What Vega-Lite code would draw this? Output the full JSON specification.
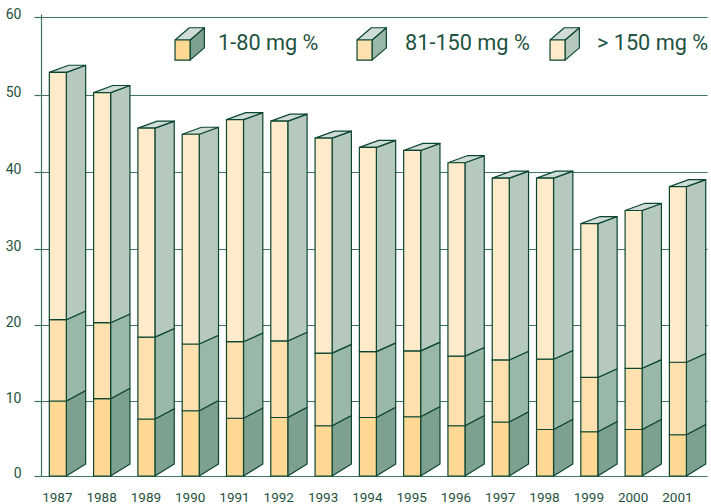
{
"$schema":"https://vega.github.io/schema/vega-lite/v6.json",
"width":666,"height":462,
"autosize":{"type":"none"},
"padding":{"left":41,"top":14,"right":4,"bottom":28},
"background":"white",
"config":{"view":{"stroke":null}},
"datasets":{
"bars":[
{"year":1987,"band":"1-80 mg %","value":10.0},{"year":1987,"band":"81-150 mg %","value":10.7},{"year":1987,"band":"> 150 mg %","value":32.2},
{"year":1988,"band":"1-80 mg %","value":10.3},{"year":1988,"band":"81-150 mg %","value":10.0},{"year":1988,"band":"> 150 mg %","value":30.0},
{"year":1989,"band":"1-80 mg %","value":7.6},{"year":1989,"band":"81-150 mg %","value":10.8},{"year":1989,"band":"> 150 mg %","value":27.3},
{"year":1990,"band":"1-80 mg %","value":8.7},{"year":1990,"band":"81-150 mg %","value":8.8},{"year":1990,"band":"> 150 mg %","value":27.4},
{"year":1991,"band":"1-80 mg %","value":7.7},{"year":1991,"band":"81-150 mg %","value":10.1},{"year":1991,"band":"> 150 mg %","value":29.0},
{"year":1992,"band":"1-80 mg %","value":7.8},{"year":1992,"band":"81-150 mg %","value":10.1},{"year":1992,"band":"> 150 mg %","value":28.7},
{"year":1993,"band":"1-80 mg %","value":6.7},{"year":1993,"band":"81-150 mg %","value":9.6},{"year":1993,"band":"> 150 mg %","value":28.1},
{"year":1994,"band":"1-80 mg %","value":7.8},{"year":1994,"band":"81-150 mg %","value":8.7},{"year":1994,"band":"> 150 mg %","value":26.7},
{"year":1995,"band":"1-80 mg %","value":7.9},{"year":1995,"band":"81-150 mg %","value":8.7},{"year":1995,"band":"> 150 mg %","value":26.2},
{"year":1996,"band":"1-80 mg %","value":6.7},{"year":1996,"band":"81-150 mg %","value":9.2},{"year":1996,"band":"> 150 mg %","value":25.3},
{"year":1997,"band":"1-80 mg %","value":7.2},{"year":1997,"band":"81-150 mg %","value":8.2},{"year":1997,"band":"> 150 mg %","value":23.8},
{"year":1998,"band":"1-80 mg %","value":6.2},{"year":1998,"band":"81-150 mg %","value":9.3},{"year":1998,"band":"> 150 mg %","value":23.7},
{"year":1999,"band":"1-80 mg %","value":5.9},{"year":1999,"band":"81-150 mg %","value":7.2},{"year":1999,"band":"> 150 mg %","value":20.2},
{"year":2000,"band":"1-80 mg %","value":6.2},{"year":2000,"band":"81-150 mg %","value":8.1},{"year":2000,"band":"> 150 mg %","value":20.7},
{"year":2001,"band":"1-80 mg %","value":5.5},{"year":2001,"band":"81-150 mg %","value":9.6},{"year":2001,"band":"> 150 mg %","value":23.0}
],
"key":[{"band":"1-80 mg %","slot":0},{"band":"81-150 mg %","slot":1},{"band":"> 150 mg %","slot":2}]
},
"encoding":{
"x":{"field":"xp","type":"quantitative","title":null,"scale":{"domain":[1986.62,2001.657],"nice":false,"zero":false},
"axis":{"values":[1987,1988,1989,1990,1991,1992,1993,1994,1995,1996,1997,1998,1999,2000,2001],"format":"d","domain":false,"ticks":false,"grid":false,"labelFont":"Roboto","labelFontSize":13.5,"labelColor":"#1f5240","labelPadding":14,"labelOffset":-1,"labelOverlap":false,"labelFlush":false}},
"y":{"field":"yp","type":"quantitative","title":null,"scale":{"domain":[0,10,20,30,40,50,60,60.39],"range":[462,387,311,235,158,81,3,0],"nice":false,"zero":false},
"axis":{"values":[0,10,20,30,40,50,60],"domain":true,"domainColor":"#3f7560","domainWidth":1.2,"ticks":true,"tickSize":7,"tickColor":"#3f7560","tickWidth":1.2,"grid":true,"gridColor":"#3f7560","gridWidth":1.2,"gridOpacity":1,"labelFont":"Roboto","labelFontSize":14,"labelColor":"#1f5240","labelPadding":13,"labelOffset":-3}}
},
"layer":[
{"data":{"name":"bars"},
"transform":[
{"calculate":"indexof(['1-80 mg %','81-150 mg %','> 150 mg %'],datum.band)","as":"level"},
{"stack":"value","groupby":["year"],"sort":[{"field":"level","order":"ascending"}],"as":["low","high"]},
{"calculate":"[datum.year+0.192,datum.year+0.628,datum.year+0.628,datum.year+0.192,datum.year+0.192]","as":"xp"},
{"calculate":"[datum.high,datum.high+(12.3-1.77*(datum.level+1))/7.65,datum.low+(12.3-1.77*datum.level)/7.65,datum.low,datum.high]","as":"yp"},
{"calculate":"[0,1,2,3,4]","as":"pt"},
{"flatten":["xp","yp","pt"]}
],
"mark":{"type":"line","stroke":"#0c4630","strokeWidth":1.2,"interpolate":"linear","strokeJoin":"round"},
"encoding":{"order":{"field":"pt"},"detail":{"field":"year"},
"fill":{"field":"band","scale":{"domain":["1-80 mg %","81-150 mg %","> 150 mg %"],"range":["#7da08f","#9ab8a8","#b5c9bf"]},"legend":null}}
},
{"data":{"name":"bars"},
"transform":[
{"calculate":"indexof(['1-80 mg %','81-150 mg %','> 150 mg %'],datum.band)","as":"level"},
{"stack":"value","groupby":["year"],"sort":[{"field":"level","order":"ascending"}],"as":["low","high"]},
{"filter":"datum.level==2"},
{"calculate":"[datum.year-0.192,datum.year+0.192,datum.year+0.628,datum.year+0.244,datum.year-0.192]","as":"xp"},
{"calculate":"[datum.high,datum.high,datum.high+0.915,datum.high+0.915,datum.high]","as":"yp"},
{"calculate":"[0,1,2,3,4]","as":"pt"},
{"flatten":["xp","yp","pt"]}
],
"mark":{"type":"line","stroke":"#0c4630","strokeWidth":1.2,"fill":"#cfddd6","strokeJoin":"round"},
"encoding":{"order":{"field":"pt"},"detail":{"field":"year"}}
},
{"data":{"name":"bars"},
"transform":[
{"calculate":"indexof(['1-80 mg %','81-150 mg %','> 150 mg %'],datum.band)","as":"level"},
{"stack":"value","groupby":["year"],"sort":[{"field":"level","order":"ascending"}],"as":["low","high"]},
{"calculate":"datum.year-0.192","as":"xp"},
{"calculate":"datum.year+0.192","as":"xe"}
],
"mark":{"type":"rect","stroke":"#0c4630","strokeWidth":1.2},
"encoding":{"x2":{"field":"xe"},"y":{"field":"low","type":"quantitative"},"y2":{"field":"high"},
"fill":{"field":"band","scale":{"domain":["1-80 mg %","81-150 mg %","> 150 mg %"],"range":["#ffd994","#ffe0ae","#ffebc9"]},"legend":null}}
},
{"data":{"name":"key"},
"transform":[
{"calculate":"[1989.646,1993.755,1998.113][datum.slot]","as":"x0"},
{"calculate":"[datum.x0+0.339,datum.x0+0.662,datum.x0+0.662,datum.x0+0.339,datum.x0+0.339]","as":"xp"},
{"calculate":"[57.05,58.62,56.04,54.47,57.05]","as":"yp"},
{"calculate":"[0,1,2,3,4]","as":"pt"},
{"flatten":["xp","yp","pt"]}
],
"mark":{"type":"line","stroke":"#0c4630","strokeWidth":1.2,"strokeJoin":"round"},
"encoding":{"order":{"field":"pt"},"detail":{"field":"slot"},
"fill":{"field":"band","scale":{"domain":["1-80 mg %","81-150 mg %","> 150 mg %"],"range":["#7da08f","#9ab8a8","#b5c9bf"]},"legend":null}}
},
{"data":{"name":"key"},
"transform":[
{"calculate":"[1989.646,1993.755,1998.113][datum.slot]","as":"x0"},
{"calculate":"[datum.x0,datum.x0+0.339,datum.x0+0.662,datum.x0+0.323,datum.x0]","as":"xp"},
{"calculate":"[57.05,57.05,58.62,58.62,57.05]","as":"yp"},
{"calculate":"[0,1,2,3,4]","as":"pt"},
{"flatten":["xp","yp","pt"]}
],
"mark":{"type":"line","stroke":"#0c4630","strokeWidth":1.2,"fill":"#cfddd6","strokeJoin":"round"},
"encoding":{"order":{"field":"pt"},"detail":{"field":"slot"}}
},
{"data":{"name":"key"},
"transform":[
{"calculate":"[1989.646,1993.755,1998.113][datum.slot]","as":"xp"},
{"calculate":"datum.xp+0.339","as":"xe"},
{"calculate":"54.47","as":"yl"},
{"calculate":"57.05","as":"yh"}
],
"mark":{"type":"rect","stroke":"#0c4630","strokeWidth":1.2},
"encoding":{"x2":{"field":"xe"},"y":{"field":"yl","type":"quantitative"},"y2":{"field":"yh"},
"fill":{"field":"band","scale":{"domain":["1-80 mg %","81-150 mg %","> 150 mg %"],"range":["#ffd994","#ffe0ae","#ffebc9"]},"legend":null}}
},
{"data":{"name":"key"},
"transform":[
{"calculate":"[1990.617,1994.839,1999.174][datum.slot]","as":"xp"},
{"calculate":"55.8","as":"yp"}
],
"mark":{"type":"text","align":"left","baseline":"alphabetic","font":"Roboto","fontSize":21.7,"fill":"#1f5240"},
"encoding":{"text":{"field":"band"}}
}
],
"resolve":{"scale":{"fill":"independent"}}
}
